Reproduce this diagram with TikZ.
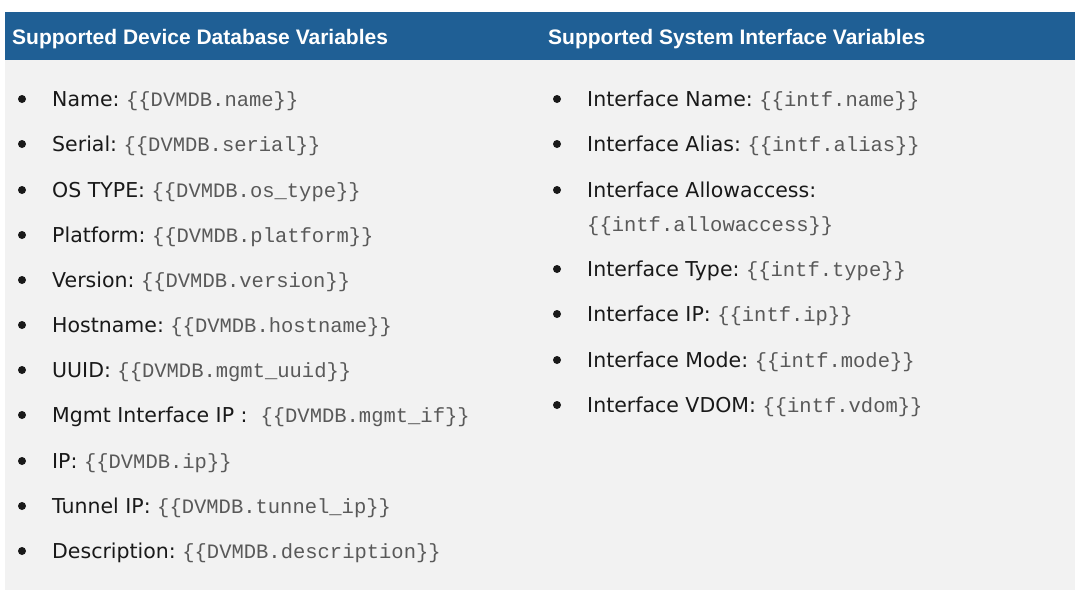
\documentclass[tikz,border=0pt]{standalone}
\usepackage{fontspec}
\setmainfont{Liberation Sans}
\newfontfamily\labf{DejaVu Sans}
\newfontfamily\monof{Liberation Mono}
\begin{document}
\begin{tikzpicture}[x=1pt,y=-1pt,
  lab/.style={anchor=base west,inner sep=0pt,font=\labf\fontsize{20.5}{24}\selectfont,text=black!90},
  hd/.style={anchor=base west,inner sep=0pt,font=\fontsize{21}{24}\selectfont\bfseries,text=white},
  bul/.style={circle,fill=black!90,inner sep=0pt,minimum size=8pt}]
\useasboundingbox (0,0) rectangle (1081,598);
\fill[white] (0,0) rectangle (1081,598);
\fill[black!5] (5,60) rectangle (1075,590);
\fill[fill={rgb,255:red,31;green,95;blue,149}] (5,12) rectangle (1075,60);
\node[hd] (h1) at (12,44) {Supported Device Database Variables};
\node[hd] (h2) at (548,44) {Supported System Interface Variables};
\newcommand{\mv}[1]{{\monof\fontsize{20.5}{22}\selectfont\color{black!65}\{\{#1\}\}}}
\foreach \y/\a/\b [count=\i] in {
 99/Name/DVMDB.name,
 144/Serial/DVMDB.serial,
 190/OS TYPE/DVMDB.os\_type,
 235/Platform/DVMDB.platform,
 280/Version/DVMDB.version,
 325/Hostname/DVMDB.hostname,
 370/UUID/DVMDB.mgmt\_uuid,
 461/IP/DVMDB.ip,
 506/Tunnel IP/DVMDB.tunnel\_ip,
 551/Description/DVMDB.description}{
  \node[bul] (lb\i) at (22,\y) {};
  \node[lab] (l\i) at (52,\y+7) {\a:\ \mv{\b}};
}
\node[bul] (lbm) at (22,415) {};
\node[lab] (lm) at (52,422) {Mgmt Interface IP :\ \ \mv{DVMDB.mgmt\_if}};
\foreach \y/\a/\b [count=\i] in {
 99/Interface Name/intf.name,
 144/Interface Alias/intf.alias,
 269/Interface Type/intf.type,
 314/Interface IP/intf.ip,
 360/Interface Mode/intf.mode,
 405/Interface VDOM/intf.vdom}{
  \node[bul] (rb\i) at (557,\y) {};
  \node[lab] (r\i) at (587,\y+7) {\a:\ \mv{\b}};
}
\node[bul] (rbx) at (557,190) {};
\node[lab] (rx) at (587,197) {Interface Allowaccess:};
\node[lab] (rx2) at (587,231) {\mv{intf.allowaccess}};
\end{tikzpicture}
\end{document}
